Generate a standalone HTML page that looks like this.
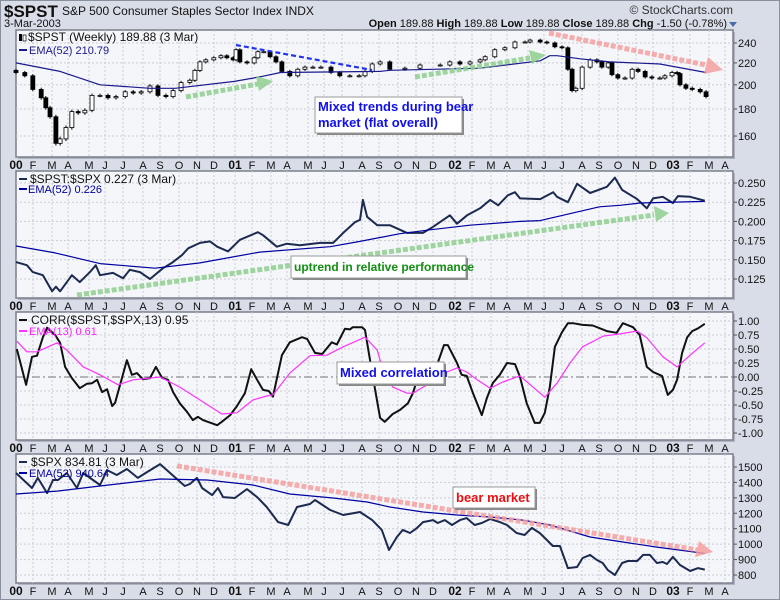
<!DOCTYPE html>
<html><head><meta charset="utf-8"><style>
html,body{margin:0;padding:0;background:#d9dde7;}
svg{display:block;font-family:"Liberation Sans",sans-serif;}
</style></head>
<body>
<svg id="chart" width="780" height="600" viewBox="0 0 780 600" xmlns="http://www.w3.org/2000/svg">
<rect x="0.5" y="0.5" width="779" height="599" fill="#d9dde7" stroke="#8a8f9c"/>
<text x="4" y="17" font-size="17" font-weight="bold" fill="#111">$SPST</text>
<text x="62" y="15" font-size="12" fill="#111">S&amp;P 500 Consumer Staples Sector Index INDX</text>
<text x="4" y="27" font-size="11" fill="#111">3-Mar-2003</text>
<text x="733" y="14" font-size="12" fill="#333" text-anchor="end">© StockCharts.com</text>
<text x="727" y="27" font-size="11" fill="#111" text-anchor="end"><tspan font-weight="bold">Open</tspan> 189.88  <tspan font-weight="bold">High</tspan> 189.88  <tspan font-weight="bold">Low</tspan> 189.88  <tspan font-weight="bold">Close</tspan> 189.88  <tspan font-weight="bold">Chg</tspan> -1.50 (-0.78%)</text>
<path d="M729 22 L737 22 L733 27 Z" fill="#4a6aa8"/>
<g id="layers"></g>
</svg>
<script>
// ---------- data (time in weeks since first week of 2000) ----------
const spstWeeks=[0,2.1,4,6,7.1,8.1,9.5,10.5,11.9,13.3,14.8,16.4,18.1,20,21.9,23.8,26,27.9,29.8,31.9,33.8,35.7,37.4,39.3,41.4,42.6,43.8,45.2,47.1,48.8,50.2,51.7,52.4,53.3,55,56.7,57.6,59,60.5,61.9,63.3,65.2,67.1,68.8,70.7,72.6,75,77.1,79.5,81.7,83.1,84.8,86.7,89,92.6,96.2,101,103.3,105.7,108.1,110.5,111.7,114,116.4,118.8,121.2,122.4,124.8,126.4,128.3,130,131.4,132.4,133.3,134.8,136.7,138.3,139.5,141,141.9,143.3,145,146.7,148.1,149.8,151.4,153.3,154.5,156.2,157.4,158.1,159.5,161,162.9,164.3];
const spstClose=[211,208,196,189,181,174,155,158,166,178,177,179,191,191,189,190,194,193,194,199,191,190,195,202,204,213,221,223,225,227,225,223,233,221,220,225,231,231,226,221,212,208,214,216,216,216,211,208,208,208,212,219,221,214,215,218,218,221,219,221,223,226,233,235,241,241,243,241,240,236,235,214,195,197,216,223,221,216,220,209,206,206,214,212,207,206,206,208,211,210,200,197,196,194,190];
const spstEmaWeeks=[0,10.5,20,31.9,37.9,52,58,63,86.7,89,110.5,124.8,127.1,128.8,134.3,141.4,153.3,164.3];
const spstEma=[220,212,200,197,197,203,207,211,212,213,215,222,227,227,224,221,219,211];

const ratioWeeks=[0,2.6,4,6.4,8.6,9.5,10.5,13.3,15.2,17.6,19,20,23.1,25.5,27.1,29.5,31.9,35,37.1,39.5,41,43.8,46.2,47.9,50.5,53.3,57.6,58.8,62.1,64.5,67.6,72.4,75.5,77.9,80.7,81.9,82.6,83.6,86,89,93.1,96.9,99.3,103.3,105,107.4,110.5,112.9,114.8,117.1,118.8,120,124.8,127.9,128.8,131.4,133.6,136.7,140.7,142.6,144.3,147.9,150.2,151.7,154,156.4,157.6,160.5,164];
const ratioValues=[.147,.143,.134,.130,.109,.115,.109,.130,.121,.134,.143,.130,.133,.126,.137,.134,.125,.139,.146,.156,.165,.172,.174,.167,.161,.176,.186,.182,.167,.171,.169,.172,.172,.185,.199,.202,.228,.206,.195,.195,.185,.185,.193,.208,.197,.208,.217,.228,.221,.234,.238,.230,.229,.238,.232,.225,.249,.237,.245,.257,.241,.229,.217,.230,.232,.224,.233,.232,.227];
const ratioEmaWeeks=[0,9.3,20,33.1,43.8,58,74.8,81.9,91.4,98.6,108.1,120,124.8,138.9,143.8,148.6,164];
const ratioEma=[.168,.159,.145,.139,.146,.160,.167,.174,.184,.189,.195,.200,.201,.219,.221,.224,.226];

const corrWeeks=[0.2,2.4,3.8,5,6.4,7.4,9.3,10.5,11.7,13.3,15.2,16.9,18.1,19.3,20.5,21.7,22.9,23.6,26.4,27.6,28.8,30.2,31.9,33.3,34.8,36.2,37.4,39,40.7,42.1,43.3,44.5,47.9,49,51,52.6,54.5,56,57.4,58.8,60.2,61.2,63.3,65.2,68.1,69.3,71.2,72.9,75.2,76.4,78.3,79.5,80.2,82.4,83.1,84.8,86.7,87.8,89.7,91.4,93.3,94.5,95.7,96.9,98.5,100.4,101.9,102.8,105,106.1,107.3,108.8,110.9,112.1,113.5,115.2,116.9,118.8,120,121.6,123.5,124.7,125.9,127.1,128.3,130,131.4,132.6,134.9,137.3,140.7,143,144.5,146.9,148.5,150.2,151.7,153.8,155.2,156.4,157.4,158.6,159.8,161,162.4,164];
const corrValues=[.50,-.14,.36,.38,.71,.88,.75,.61,.18,-.02,-.20,-.12,-.11,-.05,-.27,-.22,-.52,-.46,.30,.04,.07,-.04,-.02,.18,-.02,-.05,-.27,-.47,-.62,-.77,-.71,-.77,-.86,-.80,-.68,-.52,-.29,.14,-.05,-.23,-.25,-.35,.39,.62,.71,.68,.43,.41,.62,.58,.86,.85,.89,.89,.84,.07,-.73,-.80,-.66,-.59,-.47,-.29,0,.21,.21,.25,.57,.57,.25,.04,.02,-.29,-.68,-.38,-.11,.04,.25,.23,0,-.47,-.82,-.82,-.64,-.18,.54,.80,.96,.96,.93,.92,.82,.79,.96,.89,.75,.18,.09,.02,-.32,-.23,-.05,.43,.71,.82,.87,.95];
const corrEmaWeeks=[0.2,2.6,5,9.8,12.1,16,20,24.3,27.9,34.3,39,43.8,49,52.6,56.4,59.7,61.2,65.2,70,74,77.9,83.1,86,86.7,89.7,93.1,94.5,96.9,99.3,102.6,105,107.3,109.8,112.9,115.9,120,123.1,125.9,128.8,131.9,134.9,139.8,143.8,147.9,150.2,154,157.4,160.5,164];
const corrEma=[.64,.45,.45,.61,.48,.18,.04,-.14,-.05,0,-.18,-.41,-.66,-.64,-.41,-.34,-.32,.07,.38,.39,.54,.71,.48,.30,-.18,-.29,-.29,-.18,-.09,.09,.16,.09,-.05,-.20,-.09,.02,-.18,-.36,-.11,.25,.54,.73,.77,.82,.70,.36,.18,.39,.61];

const spxWeeks=[0,3.8,5.2,7.4,8.8,10,12.1,14.5,16,20,21.7,24,26.4,29,31.2,34.3,36.7,40.2,41.4,43.1,44.3,46.7,48.1,49.3,52.1,55,57.4,59.7,62.4,64.8,66.9,70,71.2,74.8,77.9,81.9,84.8,87.1,88.8,90.7,92.1,93.8,95.5,96.9,99.3,100.4,102.1,103.8,105.7,107.3,109.2,110.9,112.9,115.2,116.9,119.2,121.1,122.8,124.7,126.4,127.8,129.5,131.4,133.6,134.9,136.7,138.3,139.7,140.9,142.6,144.3,145.7,147.9,149.3,150.9,152.6,154,155,156.4,158.1,160.5,162.4,164];
const spxValues=[1461,1364,1429,1331,1416,1416,1461,1364,1461,1383,1480,1448,1487,1429,1467,1519,1461,1377,1390,1429,1364,1318,1364,1305,1299,1357,1305,1241,1143,1124,1241,1260,1286,1221,1189,1208,1156,1092,962,1046,1092,1072,1105,1143,1156,1137,1156,1124,1156,1169,1124,1137,1163,1143,1124,1072,1059,1105,1072,1027,988,988,845,852,910,930,897,878,832,800,878,891,891,930,930,878,884,871,917,865,826,845,835];
const spxEmaWeeks=[0,9.8,20,34.3,45.5,56.4,65.2,75.5,83.6,89,96.9,105,112.9,120.7,127.1,136.7,144.5,152.6,164];
const spxEma=[1325,1344,1377,1422,1416,1383,1325,1299,1273,1241,1208,1189,1176,1156,1124,1046,1014,981,940];

const yearLabels=["00","01","02","03"];
const monthLabels=["F","M","A","M","J","J","A","S","O","N","D"];
const p1Ticks=[160,180,200,220,240];
const p2Ticks=[0.125,0.150,0.175,0.200,0.225,0.250];
const p3Ticks=[-1,-0.75,-0.5,-0.25,0,0.25,0.5,0.75,1];
const p4Ticks=[800,900,1000,1100,1200,1300,1400,1500];

// ---------- layout ----------
const NS="http://www.w3.org/2000/svg";
const L=16,R=733;
const panels=[{t:30,b:157},{t:171,b:298},{t:312,b:440},{t:454,b:583}];
const yearX=[16,235,455,673];
const monthOff=[17,36,52,73,89,107,127,144,163,181,198];
const xW=w=>16+w*4.2;
const y1=v=>1301.3-229.6*Math.log(v);
const y2=v=>183+(0.25-v)*768;
const y3=v=>377-v*56;
const y4=v=>575-(v-800)*0.1543;
const layers=document.getElementById('layers');
function mk(tag,attrs,parent){const e=document.createElementNS(NS,tag);for(const k in attrs)e.setAttribute(k,attrs[k]);(parent||layers).appendChild(e);return e;}

function monthXs(){const xs=[];for(let yi=0;yi<4;yi++){xs.push({x:yearX[yi],lab:yearLabels[yi],yr:true});for(let m=0;m<11;m++){const x=yearX[yi]+monthOff[m];if(yi===3&&m>2)break;xs.push({x:x,lab:monthLabels[m],yr:false});}}return xs;}
const months=monthXs();

function panelFrame(i,ticks,yf,fmt){
  const p=panels[i];
  const g=mk('g',{});
  
  
  const sh=mk('rect',{x:L+2,y:p.t+2,width:R-L,height:p.b-p.t,fill:'#b0b4c0'},g);
  
  
  const bg=mk('rect',{x:L,y:p.t,width:R-L,height:p.b-p.t,fill:'#f5f6fa',stroke:'#7a7e8a','stroke-width':1.5},g);
  
  
  months.forEach(m=>{if(m.x<=L+1||m.x>=R)return;const l=mk('line',{x1:m.x,x2:m.x,y1:p.t,y2:p.b,stroke:'#c9ccd4','stroke-dasharray':'2,2'},g);
    
    });
  ticks.forEach(v=>{const y=yf(v);const l=mk('line',{x1:L,x2:R,y1:y,y2:y,stroke:(i===2&&v===0)?'#777':'#c9ccd4','stroke-dasharray':(i===2&&v===0)?'8,3,2,3':'2,2'},g);
    
    
    const tk=mk('line',{x1:R,x2:R+4,y1:y,y2:y,stroke:'#555'},g);
    
    
    const t=mk('text',{x:R+5,y:y+4,'font-size':11,fill:'#111'},g);t.textContent=fmt(v);
    
    });
  const ay=p.b+12;
  months.forEach(m=>{const t=mk('text',{x:m.x,y:ay,'font-size':m.yr?12:11,'font-weight':m.yr?'bold':'normal','text-anchor':'middle',fill:'#111'},g);t.textContent=m.lab;
    
    });
}
panelFrame(0,p1Ticks,y1,v=>String(v));
panelFrame(1,p2Ticks,y2,v=>v.toFixed(3));
panelFrame(2,p3Ticks,y3,v=>v.toFixed(2));
panelFrame(3,p4Ticks,y4,v=>String(v));

function line(ws,vs,yf,color,w,name){
  let d='';ws.forEach((wk,i)=>{d+=(i?'L':'M')+xW(wk).toFixed(1)+' '+yf(vs[i]).toFixed(1);});
  const p=mk('path',{d:d,fill:'none',stroke:color,'stroke-width':w,'stroke-linejoin':'round'});
  
  
}
const cg=mk('g',{});


spstClose.forEach((c,i)=>{
  const o=i?spstClose[i-1]:c+2;const x=xW(spstWeeks[i]);
  const hi=Math.max(o,c)+1.5,lo=Math.min(o,c)-1.5;
  const wk=mk('line',{x1:x,x2:x,y1:y1(hi),y2:y1(lo),stroke:'#000'},cg);
  
  
  const top=y1(Math.max(o,c)),bot=y1(Math.min(o,c));
  const r=mk('rect',{x:x-2,y:top,width:4,height:Math.max(1,bot-top),fill:c<o?'#000':'#fff',stroke:'#000','stroke-width':0.8},cg);
  
  
});
line(spstEmaWeeks,spstEma,y1,'#1a1a8c',1.2,'spst-ema-line');
line(ratioWeeks,ratioValues,y2,'#1b2a4e',2,'ratio-line');
line(ratioEmaWeeks,ratioEma,y2,'#0000a0',1.2,'ratio-ema-line');
line(corrWeeks,corrValues,y3,'#111',2,'correlation-line');
line(corrEmaWeeks,corrEma,y3,'#ff33ff',1.2,'correlation-ema-line');
line(spxWeeks,spxValues,y4,'#1b2a4e',2,'spx-line');
line(spxEmaWeeks,spxEma,y4,'#0000a0',1.2,'spx-ema-line');
</script>
<svg width="780" height="600" style="position:absolute;left:0;top:0;font-family:'Liberation Sans',sans-serif">
<g font-size="12">
<text x="28" y="41" fill="#111">$SPST (Weekly) 189.88 (3 Mar)</text>
<rect x="19" y="34" width="3" height="7" fill="#000"/><rect x="23" y="35" width="3" height="6" fill="#fff" stroke="#000" stroke-width="0.7"/>
<line x1="19" x2="27" y1="50" y2="50" stroke="#1a1a8c" stroke-width="2"/>
<text x="29" y="54" fill="#1a1a8c" font-size="11">EMA(52) 210.79</text>
</g>
<g font-size="12">
<line x1="19" x2="27" y1="179" y2="179" stroke="#1b2a4e" stroke-width="2"/>
<text x="30" y="183" fill="#111">$SPST:$SPX 0.227 (3 Mar)</text>
<line x1="19" x2="27" y1="189" y2="189" stroke="#0000a0" stroke-width="2"/>
<text x="28" y="193" fill="#0000a0" font-size="11">EMA(52) 0.226</text>
</g>
<g font-size="12">
<line x1="19" x2="27" y1="320" y2="320" stroke="#111" stroke-width="2"/>
<text x="31" y="324" fill="#111">CORR($SPST,$SPX,13) 0.95</text>
<line x1="19" x2="27" y1="331" y2="331" stroke="#ff33ff" stroke-width="2"/>
<text x="29" y="335" fill="#ff22ff" font-size="11">EMA(13) 0.61</text>
</g>
<g font-size="12">
<line x1="19" x2="27" y1="462" y2="462" stroke="#1b2a4e" stroke-width="2"/>
<text x="31" y="466" fill="#111">$SPX 834.81 (3 Mar)</text>
<line x1="19" x2="27" y1="473" y2="473" stroke="#0000a0" stroke-width="2"/>
<text x="29" y="477" fill="#0000a0" font-size="11">EMA(52) 940.64</text>
</g>
<line x1="236" y1="45" x2="372" y2="70" stroke="#2233ee" stroke-width="2.2" stroke-dasharray="5,3"/>
<g opacity="0.85"><line x1="186" y1="97" x2="258" y2="84" stroke="#8fd08f" stroke-width="5" stroke-dasharray="5,2"/><path d="M256 76 L273 81 L259 91 Z" fill="#8fd08f"/></g>
<g opacity="0.85"><line x1="415" y1="77" x2="530" y2="58" stroke="#8fd08f" stroke-width="5" stroke-dasharray="5,2"/><path d="M529 50 L546 55 L532 64 Z" fill="#8fd08f"/></g>
<g opacity="0.85"><line x1="549" y1="33" x2="706" y2="65" stroke="#f4a0a0" stroke-width="5" stroke-dasharray="5,2"/><path d="M708 57 L723 70 L704 74 Z" fill="#f4a0a0"/></g>
<g opacity="0.85"><line x1="77" y1="295" x2="654" y2="215" stroke="#8fd08f" stroke-width="5" stroke-dasharray="5,2"/><path d="M654 206 L669 213 L656 222 Z" fill="#8fd08f"/></g>
<g opacity="0.85"><line x1="177" y1="466" x2="698" y2="550" stroke="#f4a0a0" stroke-width="5" stroke-dasharray="5,2"/><path d="M699 541 L713 552 L695 557 Z" fill="#f4a0a0"/></g>
<g>
<rect x="317" y="99" width="147" height="36" fill="#888"/><rect x="315" y="97" width="147" height="36" fill="#fff" stroke="#999"/>
<text x="318" y="111" font-size="13" font-weight="bold" fill="#1010ee">Mixed trends during bear</text>
<text x="318" y="127" font-size="13" font-weight="bold" fill="#1010ee">market (flat overall)</text>
</g>
<g>
<rect x="293" y="258" width="175" height="22" fill="#888"/><rect x="291" y="256" width="175" height="22" fill="#fff" stroke="#999"/>
<text x="294" y="271" font-size="12" font-weight="bold" fill="#109010">uptrend in relative performance</text>
</g>
<g>
<rect x="339" y="364" width="107" height="22" fill="#888"/><rect x="337" y="362" width="107" height="22" fill="#fff" stroke="#999"/>
<text x="340" y="377" font-size="13" font-weight="bold" fill="#1010ee">Mixed correlation</text>
</g>
<g>
<rect x="455" y="489" width="82" height="21" fill="#888"/><rect x="453" y="487" width="82" height="21" fill="#fff" stroke="#999"/>
<text x="456" y="502" font-size="13" font-weight="bold" fill="#ee1010">bear market</text>
</g>
</svg>
</body></html>
